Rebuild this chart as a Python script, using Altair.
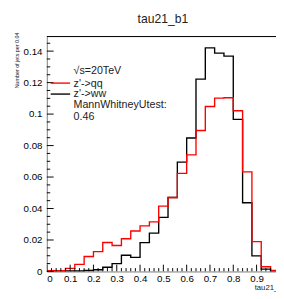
import altair as alt
import pandas as pd

# bin edges (width 0.04) and normalised contents
edges = [0.0, 0.04, 0.08, 0.12, 0.16, 0.2, 0.24, 0.28, 0.32, 0.36, 0.4, 0.44, 0.48,
         0.52, 0.56, 0.6, 0.64, 0.68, 0.72, 0.76, 0.8, 0.84, 0.88, 0.92, 0.96, 1.0]
qq = [0.0005, 0.0005, 0.0020, 0.0045, 0.0095, 0.0126, 0.0184, 0.0165, 0.0208, 0.0257,
      0.0290, 0.0315, 0.0415, 0.0470, 0.0623, 0.0741, 0.0896, 0.1048, 0.1101, 0.1104,
      0.1021, 0.0633, 0.0190, 0.0030, 0.0007]
ww = [0.0003, 0.0003, 0.0003, 0.0003, 0.0006, 0.0011, 0.0027, 0.0050, 0.0103, 0.0090,
      0.0183, 0.0244, 0.0344, 0.0470, 0.0695, 0.0848, 0.1222, 0.1421, 0.1387, 0.1368,
      0.0966, 0.0437, 0.0099, 0.0015, 0.0003]

x_major = [0.0, 0.1, 0.2, 0.3, 0.4, 0.5, 0.6, 0.7, 0.8, 0.9]
x_minor = [0.02, 0.04, 0.06, 0.08, 0.12, 0.14, 0.16, 0.18, 0.22, 0.24, 0.26, 0.28,
           0.32, 0.34, 0.36, 0.38, 0.42, 0.44, 0.46, 0.48, 0.52, 0.54, 0.56, 0.58,
           0.62, 0.64, 0.66, 0.68, 0.72, 0.74, 0.76, 0.78, 0.82, 0.84, 0.86, 0.88,
           0.92, 0.94, 0.96]
y_major = [0.0, 0.02, 0.04, 0.06, 0.08, 0.1, 0.12, 0.14]
y_minor = [0.005, 0.01, 0.015, 0.025, 0.03, 0.035, 0.045, 0.05, 0.055, 0.065, 0.07,
           0.075, 0.085, 0.09, 0.095, 0.105, 0.11, 0.115, 0.125, 0.13, 0.135, 0.145]

title_text = "tau21_b1"
x_title = "tau21_b1"
y_title = "Number of jets per 0.04"
legend_lines = ["\u221as=20TeV", "z'->qq", "z'->ww", "MannWhitneyUtest:", "0.46"]

W = 236
H = 242
XMAX = 236 / 240
YMAX = 0.1493
FONT = "Liberation Sans"
TXT = "#222222"

xscale = alt.Scale(domain=[0, XMAX], nice=False, zero=False)
yscale = alt.Scale(domain=[0, YMAX], nice=False, zero=False)

xaxis = alt.Axis(values=x_major, labelExpr="format(datum.value, '~g')", grid=False,
                 ticks=False, title=None, labelPadding=2)
yaxis = alt.Axis(values=y_major, labelExpr="format(datum.value, '~g')", grid=False,
                 ticks=False, title=None, labelPadding=5)

hist_df = pd.DataFrame({
    "x": edges + edges,
    "y": qq + [qq[-1]] + ww + [ww[-1]],
    "s": ["qq"] * len(edges) + ["ww"] * len(edges),
})

black = alt.Chart(hist_df).transform_filter("datum.s == 'ww'").mark_line(
    interpolate="step-after", color="black", strokeWidth=1.4, clip=True
).encode(x=alt.X("x:Q", scale=xscale, axis=xaxis),
         y=alt.Y("y:Q", scale=yscale, axis=yaxis))

red = alt.Chart(hist_df).transform_filter("datum.s == 'qq'").mark_line(
    interpolate="step-after", color="#ff0000", strokeWidth=1.4, clip=True
).encode(x=alt.X("x:Q", scale=xscale, axis=xaxis),
         y=alt.Y("y:Q", scale=yscale, axis=yaxis))

def xticks(vals, length):
    return alt.Chart(pd.DataFrame({"v": vals})).mark_rule(
        color="black", strokeWidth=1, clip=True
    ).encode(x=alt.X("v:Q", scale=xscale, axis=xaxis),
             y=alt.value(H), y2=alt.value(H - length))

def yticks(vals, length):
    return alt.Chart(pd.DataFrame({"v": vals})).mark_rule(
        color="black", strokeWidth=1
    ).encode(y=alt.Y("v:Q", scale=yscale, axis=yaxis),
             x=alt.value(0), x2=alt.value(length))

top_frame = alt.Chart(pd.DataFrame({"v": [0]})).mark_rule(
    color="black", strokeWidth=1
).encode(x=alt.value(0), x2=alt.value(W + 5), y=alt.value(0))

def label(txt, x, y, size, align="left", angle=0, color=TXT):
    return alt.Chart(pd.DataFrame({"t": [txt]})).mark_text(
        align=align, baseline="middle", fontSize=size, font=FONT,
        color=color, angle=angle
    ).encode(x=alt.value(x), y=alt.value(y), text="t:N")

def legline(color, y):
    return alt.Chart(pd.DataFrame({"v": [0]})).mark_rule(
        color=color, strokeWidth=1.4
    ).encode(x=alt.value(4), x2=alt.value(24), y=alt.value(y))

layers = [
    black, red,
    xticks(x_major, 7), xticks(x_minor, 3.5),
    yticks(y_major, 7), yticks(y_minor, 3.5),
    top_frame,
    label(title_text, 119.5, -18, 12.5, align="center"),
    label(y_title, -31, -4, 5.5, align="right", angle=270),
    label(x_title, 214, H + 17, 8),
    label(legend_lines[0], 27.5, 35.3, 11),
    label(legend_lines[1], 27.5, 48.7, 11),
    label(legend_lines[2], 27.5, 59.5, 11),
    label(legend_lines[3], 27.5, 71, 11),
    label(legend_lines[4], 27.5, 83, 11),
    legline("#ff0000", 48), legline("black", 59.3),
]

chart = alt.layer(*layers).properties(
    width=W, height=H,
    padding={"left": 40, "top": 25, "right": 0, "bottom": 24},
    autosize="none",
).configure_view(stroke=None).configure_axis(
    grid=False, ticks=False, domain=True, domainColor="black", domainWidth=1,
    labelFont=FONT, labelFontSize=8.5, labelColor=TXT,
).configure(background="white")

chart.save("out.html", embed_options={"renderer": "svg", "actions": False})
